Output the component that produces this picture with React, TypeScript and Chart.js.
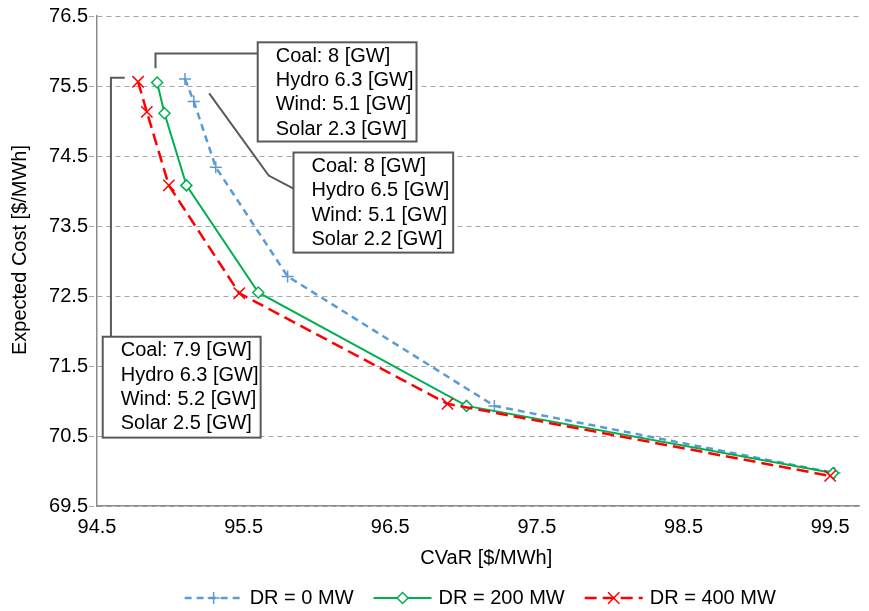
import { useEffect, useRef } from 'react';
import { Chart, registerables } from 'chart.js';
import { drawPoint } from 'chart.js/helpers';

Chart.register(...registerables);

// ---- data ----
const cvar0 = [95.1, 95.16, 95.31, 95.8, 97.21, 99.53];
const cost0 = [75.6, 75.28, 74.34, 72.78, 70.93, 69.97];
const cvar200 = [94.91, 94.96, 95.11, 95.6, 97.02, 99.52];
const cost200 = [75.55, 75.11, 74.08, 72.55, 70.93, 69.97];
const cvar400 = [94.78, 94.84, 94.99, 95.47, 96.89, 99.5];
const cost400 = [75.56, 75.13, 74.08, 72.54, 70.96, 69.93];
const seriesLabels = ['DR = 0 MW', 'DR = 200 MW', 'DR = 400 MW'];
const xTicks = [94.5, 95.5, 96.5, 97.5, 98.5, 99.5];
const yTicks = [69.5, 70.5, 71.5, 72.5, 73.5, 74.5, 75.5, 76.5];
const box1Text = ['Coal: 8 [GW]', 'Hydro 6.3 [GW]', 'Wind: 5.1 [GW]', 'Solar 2.3 [GW]'];
const box2Text = ['Coal: 8 [GW]', 'Hydro 6.5 [GW]', 'Wind: 5.1 [GW]', 'Solar 2.2 [GW]'];
const box3Text = ['Coal: 7.9 [GW]', 'Hydro 6.3 [GW]', 'Wind: 5.2 [GW]', 'Solar 2.5 [GW]'];

const FONT = "'Liberation Sans', Arial, Helvetica, sans-serif";

// callout anchors in data coordinates
const callouts = [
  {
    lines: box1Text,
    box: [95.596, 76.124, 96.679, 74.707],
    leader: [[95.596, 75.966], [94.899, 75.966], [94.899, 75.752]],
  },
  {
    lines: box2Text,
    box: [95.84, 74.55, 96.929, 73.12],
    leader: [[95.84, 74.035], [95.671, 74.221], [95.265, 75.394]],
  },
  {
    lines: box3Text,
    box: [94.539, 71.918, 95.616, 70.477],
    leader: [[94.595, 71.918], [94.595, 75.619], [94.689, 75.619]],
  },
];

const toPts = (xs: number[], ys: number[]) => xs.map((v, i) => ({ x: v, y: ys[i] }));

const overlay = {
  id: 'overlay',
  afterDatasetsDraw(chart: any) {
    const { ctx, scales } = chart;
    const x = scales.x;
    const y = scales.y;
    ctx.save();
    for (const c of callouts) {
      ctx.strokeStyle = '#595959';
      ctx.lineWidth = 2;
      ctx.setLineDash([]);
      ctx.beginPath();
      c.leader.forEach(([a, b], i) => {
        const px = x.getPixelForValue(a);
        const py = y.getPixelForValue(b);
        if (i) ctx.lineTo(px, py);
        else ctx.moveTo(px, py);
      });
      ctx.stroke();
      const l = x.getPixelForValue(c.box[0]);
      const t = y.getPixelForValue(c.box[1]);
      const r = x.getPixelForValue(c.box[2]);
      const b = y.getPixelForValue(c.box[3]);
      ctx.fillStyle = '#ffffff';
      ctx.fillRect(l, t, r - l, b - t);
      ctx.strokeRect(l, t, r - l, b - t);
      ctx.fillStyle = '#000000';
      ctx.font = `20px ${FONT}`;
      ctx.textBaseline = 'middle';
      ctx.textAlign = 'left';
      c.lines.forEach((s, i) => ctx.fillText(s, l + 18, t + 14 + i * 24.3));
    }
    ctx.restore();
  },
  afterDraw(chart: any) {
    const { ctx, chartArea } = chart;
    ctx.save();
    ctx.fillStyle = '#000000';
    ctx.font = `20px ${FONT}`;
    // axis titles
    ctx.textAlign = 'center';
    ctx.textBaseline = 'middle';
    ctx.fillText('CVaR [$/MWh]', (chartArea.left + chartArea.right) / 2 + 8, 558);
    ctx.save();
    ctx.translate(20, 250);
    ctx.rotate(-Math.PI / 2);
    ctx.fillText('Expected Cost [$/MWh]', 0, 0);
    ctx.restore();

    // legend
    const sample = 58;
    const gapText = 7;
    const gapItem = 20;
    const ds = chart.data.datasets;
    const widths = ds.map((d: any) => sample + gapText + ctx.measureText(d.label).width);
    const total = widths.reduce((a: number, b: number) => a + b, 0) + gapItem * (ds.length - 1);
    let cx = (chartArea.left + chartArea.right) / 2 + 2 - total / 2;
    const ly = 598;
    ds.forEach((d: any, i: number) => {
      ctx.save();
      ctx.strokeStyle = d.borderColor;
      ctx.lineWidth = d.borderWidth;
      ctx.setLineDash(d.borderDash || []);
      ctx.beginPath();
      ctx.moveTo(cx, ly);
      ctx.lineTo(cx + sample, ly);
      ctx.stroke();
      ctx.setLineDash([]);
      ctx.fillStyle = d.pointBackgroundColor;
      ctx.strokeStyle = d.pointBorderColor;
      ctx.lineWidth = d.pointBorderWidth;
      drawPoint(ctx, { pointStyle: d.pointStyle, radius: d.pointRadius, rotation: 0, borderWidth: d.pointBorderWidth }, cx + sample / 2, ly);
      ctx.restore();
      ctx.fillStyle = '#000000';
      ctx.textAlign = 'left';
      ctx.textBaseline = 'middle';
      ctx.fillText(d.label, cx + sample + gapText, ly);
      cx += widths[i] + gapItem;
    });
    ctx.restore();
  },
};

export default function App() {
  const ref = useRef<HTMLCanvasElement>(null);
  useEffect(() => {
    if (!ref.current) return;
    const chart = new Chart(ref.current, {
      type: 'scatter',
      data: {
        datasets: [
          {
            label: seriesLabels[0],
            data: toPts(cvar0, cost0),
            showLine: true,
            borderColor: '#5B9BD5',
            borderWidth: 2.5,
            borderDash: [7, 5],
            pointStyle: 'cross',
            pointRadius: 6,
            pointBorderWidth: 1.5,
            pointBorderColor: '#5B9BD5',
            pointBackgroundColor: '#5B9BD5',
            backgroundColor: '#5B9BD5',
            order: 2,
          },
          {
            label: seriesLabels[1],
            data: toPts(cvar200, cost200),
            showLine: true,
            borderColor: '#00B050',
            borderWidth: 2,
            pointStyle: 'rectRot',
            pointRadius: 5.5,
            pointBorderWidth: 1.5,
            pointBorderColor: '#00B050',
            pointBackgroundColor: '#ffffff',
            backgroundColor: '#ffffff',
            order: 1,
          },
          {
            label: seriesLabels[2],
            data: toPts(cvar400, cost400),
            showLine: true,
            borderColor: '#FF0000',
            borderWidth: 2.5,
            borderDash: [12, 6],
            pointStyle: 'crossRot',
            pointRadius: 8,
            pointBorderWidth: 1.5,
            pointBorderColor: '#FF0000',
            pointBackgroundColor: '#FF0000',
            backgroundColor: '#FF0000',
            order: 0,
          },
        ],
      },
      options: {
        responsive: false,
        animation: false,
        layout: { padding: { top: 16, right: 3, left: 0, bottom: 0 } },
        plugins: { legend: { display: false }, tooltip: { enabled: false } },
        scales: {
          x: {
            type: 'linear',
            min: 94.5,
            max: 99.7,
            afterBuildTicks: (s: any) => {
              s.ticks = xTicks.map((v) => ({ value: v }));
            },
            afterFit: (s: any) => {
              s.height = 105;
            },
            grid: { display: false, drawTicks: false },
            border: { display: true, color: '#8C8C8C', width: 1.5 },
            ticks: {
              color: '#000000',
              padding: 9,
              maxRotation: 0,
              font: { family: FONT, size: 20 },
              callback: (v: any) => Number(v).toFixed(1),
            },
          },
          y: {
            type: 'linear',
            min: 69.5,
            max: 76.5,
            afterBuildTicks: (s: any) => {
              s.ticks = yTicks.map((v) => ({ value: v }));
            },
            afterFit: (s: any) => {
              s.width = 97;
            },
            grid: {
              color: '#A6A6A6',
              lineWidth: 1,
              tickLength: 8,
              tickColor: '#A6A6A6',
              tickBorderDash: [5, 4],
            },
            border: { display: true, color: '#8C8C8C', width: 1.5, dash: [5, 4] },
            ticks: {
              color: '#000000',
              padding: 1,
              font: { family: FONT, size: 20 },
              callback: (v: any) => Number(v).toFixed(1),
            },
          },
        },
      },
      plugins: [overlay],
    });
    return () => chart.destroy();
  }, []);
  return (
    <div style={{ position: 'absolute', left: 0, top: 0, width: 869, height: 611, background: '#fff' }}>
      <canvas ref={ref} width={869} height={611} style={{ display: 'block' }} />
    </div>
  );
}
